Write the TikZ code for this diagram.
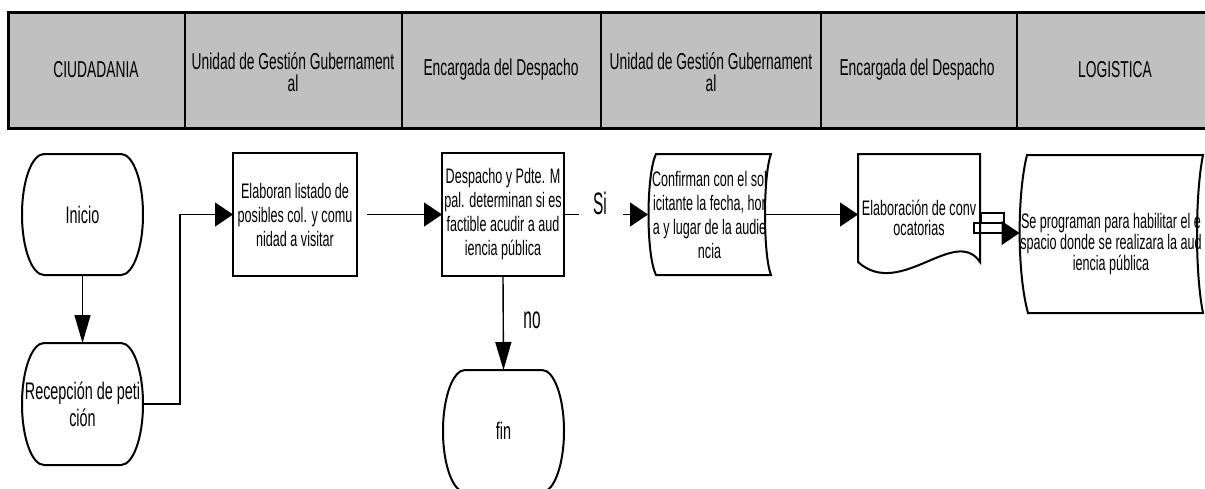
\documentclass[tikz,border=0pt]{standalone}
\usepackage{fontspec}
\setmainfont{Liberation Sans}[FakeStretch=0.6]
\newfontfamily\lblfont{Liberation Sans}[FakeStretch=0.5]
\usetikzlibrary{arrows.meta,calc}
\definecolor{hdrgray}{HTML}{C0C0C0}
\newcommand\mkterm[1]{%
  \draw[shp] ($(#1.north west)+(22,0)$) -- ($(#1.north east)+(-22,0)$)
    .. controls ($(#1.north east)+(-10,0)$) and ($(#1.east)+(0,-34)$) .. (#1.east)
    .. controls ($(#1.east)+(0,34)$) and ($(#1.south east)+(-10,0)$) .. ($(#1.south east)+(-22,0)$)
    -- ($(#1.south west)+(22,0)$)
    .. controls ($(#1.south west)+(10,0)$) and ($(#1.west)+(0,34)$) .. (#1.west)
    .. controls ($(#1.west)+(0,-34)$) and ($(#1.north west)+(10,0)$) .. ($(#1.north west)+(22,0)$);}
\begin{document}
\begin{tikzpicture}[x=1pt,y=-1pt,
  hdr/.style={font=\fontsize{23}{22}\selectfont, align=center, text=black, inner sep=0},
  boxtxt/.style={font=\fontsize{21}{24}\selectfont, align=center, inner sep=0, outer sep=0},
  termtxt/.style={boxtxt, font=\fontsize{24}{27}\selectfont, minimum width=121pt, minimum height=121pt},
  conn/.style={line width=1.4pt},
  harr/.style={conn, -{Triangle[length=18pt,width=24pt]}},
  varr/.style={conn, -{Triangle[length=28pt,width=16pt]}},
  boxline/.style={line width=2.8pt},
  shp/.style={line width=2pt},
  lbl/.style={font=\lblfont\fontsize{31}{32}\selectfont, inner sep=0}]
\useasboundingbox (0,0) rectangle (1205,488);
\fill[white] (0,0) rectangle (1205,488);
% header
\fill[hdrgray] (8,12) rectangle (1213,128);
\foreach \xx in {185,402,601,821,1017} \draw[line width=2pt] (\xx,12) -- (\xx,128);
\draw[line width=3pt] (8,12) rectangle (1213,128);
\node[hdr] (h1) at (96,70) {CIUDADANIA};
\node[hdr] (h2) at (293,72.5) {Unidad de Gestión Gubernament\\al};
\node[hdr] (h3) at (501,70) {Encargada del Despacho};
\node[hdr] (h4) at (711,72.5) {Unidad de Gestión Gubernament\\al};
\node[hdr] (h5) at (917,70) {Encargada del Despacho};
\node[hdr] (h6) at (1115,70) {LOGISTICA};
% terminals
\node[termtxt] (ini) at (82.5,214.5) {Inicio};
\mkterm{ini}
\node[termtxt, minimum height=122pt] (rec) at (82.5,404) {Recepción de peti\\ción};
\mkterm{rec}
% process boxes
\node[boxtxt, draw, boxline, minimum width=124pt, minimum height=123pt] (b1) at (295,214.5) {Elaboran listado de\\posibles col. y comu\\nidad a visitar};
\node[boxtxt, draw, boxline, minimum width=122pt, minimum height=123pt] (b2) at (503,214.5) {Despacho y Pdte. M\\pal. determinan si es\\factible acudir a aud\\iencia pública};
% stored data 1
\draw[shp] (656,154) -- (771,154) .. controls (763,175) and (763,255) .. (771,275) -- (656,275) .. controls (646,255) and (646,175) .. (656,154) -- cycle;
\node[boxtxt, minimum width=123pt, minimum height=121pt] (b3) at (709.5,214.5) {Confirman con el sol\\icitante la fecha, hor\\a y lugar de la audie\\ncia};
% document
\draw[shp] (858,154) -- (980,154) -- (980,262) .. controls (955,225) and (900,300) .. (858,262) -- cycle;
\node[boxtxt, font=\fontsize{21}{20}\selectfont, minimum width=122pt] (b4) at (919,218) {Elaboración de conv\\ocatorias};
% stored data 2
\draw[shp] (1027,155) -- (1203,155) .. controls (1195,195) and (1195,273) .. (1203,313) -- (1028,313) .. controls (1017,273) and (1017,195) .. (1027,155) -- cycle;
\node[boxtxt, font=\fontsize{21}{21}\selectfont, minimum width=183pt] (b5) at (1111,244) {Se programan para habilitar el e\\spacio donde se realizara la aud\\iencia pública};
% fin
\node[termtxt, minimum height=122pt] (fin) at (503.5,431) {fin};
\mkterm{fin}
% connectors
\draw[varr] (ini.south) -- (rec.north);
\draw[harr] (rec.east) -- ++(37,0) |- (b1.west);
\coordinate (c12) at (367,214.5);
\draw[harr] (c12) -- (b2.west);
\coordinate (siend) at (579,214.5);
\draw[conn] (b2.east) -- (siend);
\node[lbl] (si) at (600,203) {Si};
\coordinate (sistart) at (623,214.5);
\draw[harr] (sistart) -- (b3.west);
\coordinate (c34) at (765,214.5);
\draw[harr] (c34) -- (c34 -| b4.west);
\draw[conn] (981,213) rectangle (1004,223);
\draw[conn] (974,223) rectangle (1004,233);
\coordinate (d45) at (1003,233);
\draw[harr] (d45) -- (d45 -| b5.west);
\draw[varr] (b2.south) -- (fin.north);
\node[lbl] (no) at (532,320) {no};
\end{tikzpicture}
\end{document}
